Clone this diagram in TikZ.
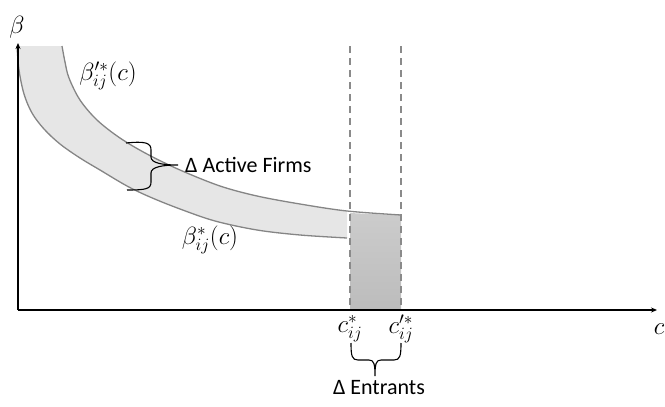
\documentclass[tikz,border=0pt]{standalone}
\usepackage{fontspec}
\setmainfont{Carlito}
\usetikzlibrary{arrows.meta}
\definecolor{bandfill}{HTML}{E6E6E6}
\definecolor{entfill}{HTML}{C6C6C6}
\definecolor{curvegray}{HTML}{858585}
\definecolor{dashgray}{HTML}{8A8A8A}
\tikzset{
  axis/.style={line width=1.6pt, -{Stealth[length=6pt,width=5pt]}},
  curve/.style={line width=1.3pt, draw=curvegray},
  guide/.style={line width=1.6pt, draw=dashgray, dash pattern=on 7pt off 5pt},
  brace/.style={line width=1.1pt, draw=black},
  lbl/.style={font=\fontsize{22}{26}\selectfont, inner sep=0pt},
  mlbl/.style={font=\fontsize{25}{30}\selectfont, inner sep=0pt},
}
\begin{document}
\begin{tikzpicture}[x=1pt,y=-1pt]
\useasboundingbox (0,0) rectangle (665,407);
% band fill
\fill[bandfill] (17,46) -- (62,46)
  -- plot[smooth,tension=0.55] coordinates {(62,46) (65,62) (69,78) (80,100) (97,120) (120,138) (147,154) (180,170) (220,186) (257,196) (300,204) (347,211)}
  -- (347,238)
  -- plot[smooth,tension=0.55] coordinates {(347,238) (300,235) (257,230) (215,221) (180,209) (150,197) (127,186) (100,170) (80,158) (60,144) (44,129) (32,113) (24,94) (19,70) (17,46)}
  -- cycle;
% entrants region
\shade[top color=entfill!90!white, bottom color=entfill!95!black]
  (350,213) .. controls (370,214) and (385,214.5) .. (401,215) -- (401,309) -- (350,309) -- cycle;
% curves
\draw[curve] plot[smooth,tension=0.55] coordinates {(62,46) (65,62) (69,78) (80,100) (97,120) (120,138) (147,154) (180,170) (220,186) (257,196) (300,204) (347,211) (401,215)};
\draw[curve] plot[smooth,tension=0.55] coordinates {(17,46) (19,70) (24,94) (32,113) (44,129) (60,144) (80,158) (100,170) (127,186) (150,197) (180,209) (215,221) (257,230) (300,235) (347,238)};
% dashed guides
\coordinate (g1t) at (350,46);
\coordinate (g1b) at (350,309);
\coordinate (g2t) at (401,46);
\coordinate (g2b) at (401,309);
\draw[guide] (g1t) -- (g1b);
\draw[guide] (g2t) -- (g2b);
% axes
\coordinate (O) at (18,310);
\coordinate (ytop) at (18,43);
\coordinate (xend) at (657,310);
\draw[axis] (O) -- (ytop);
\draw[axis] (O) -- (xend);
% labels
\node[mlbl] (beta) at (17,27) {$\beta$};
\node[mlbl] (cax) at (659,329) {$c$};
\node[mlbl] (bup) at (108,76) {$\beta'^{*}_{ij}(c)$};
\node[mlbl] (blo) at (210,240) {$\beta^{*}_{ij}(c)$};
\node[mlbl] (c1) at (350,329) {$c^{*}_{ij}$};
\node[mlbl] (c2) at (401,329) {$c'^{*}_{ij}$};
% active firms brace
\coordinate (af) at (178,165);
\draw[brace] (126,143) .. controls (146,141) and (151,143) .. (151,150) -- (151,157)
  .. controls (151,163) and (162,165) .. (af)
  .. controls (162,165) and (151,167) .. (151,173) -- (151,182)
  .. controls (151,189) and (146,190) .. (127,190);
\node[lbl, anchor=west] (actf) at (185,165) {Δ Active Firms};
% entrants brace
\coordinate (en) at (375,376);
\draw[brace] (351,343) .. controls (351,356) and (352,360) .. (358,360) -- (369,360)
  .. controls (374,360) and (375,364) .. (en)
  .. controls (375,364) and (376,360) .. (381,360) -- (394,360)
  .. controls (400,360) and (401,356) .. (401,343);
\node[lbl] (entr) at (379,388) {Δ Entrants};
\end{tikzpicture}
\end{document}
